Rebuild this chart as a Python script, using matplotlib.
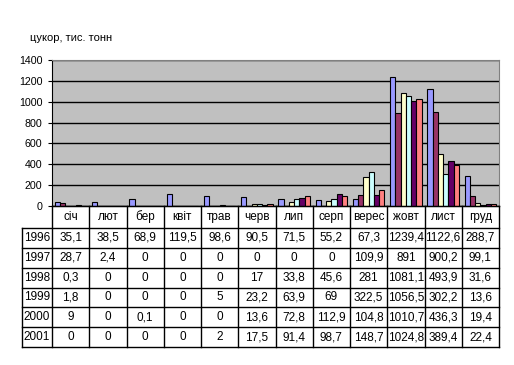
import numpy as np
import matplotlib
matplotlib.use('Agg')
from matplotlib import pyplot as plt

plt.rcParams['font.family'] = ['Liberation Sans', 'DejaVu Sans']

months = ['січ', 'лют', 'бер', 'квіт', 'трав', 'черв', 'лип', 'серп', 'верес', 'жовт', 'лист', 'груд']
years = ['1996', '1997', '1998', '1999', '2000', '2001']

y1996 = [35.1, 38.5, 68.9, 119.5, 98.6, 90.5, 71.5, 55.2, 67.3, 1239.4, 1122.6, 288.7]
y1997 = [28.7, 2.4, 0, 0, 0, 0, 0, 0, 109.9, 891, 900.2, 99.1]
y1998 = [0.3, 0, 0, 0, 0, 17, 33.8, 45.6, 281, 1081.1, 493.9, 31.6]
y1999 = [1.8, 0, 0, 0, 5, 23.2, 63.9, 69, 322.5, 1056.5, 302.2, 13.6]
y2000 = [9, 0, 0.1, 0, 0, 13.6, 72.8, 112.9, 104.8, 1010.7, 436.3, 19.4]
y2001 = [0, 0, 0, 0, 2, 17.5, 91.4, 98.7, 148.7, 1024.8, 389.4, 22.4]
series = [y1996, y1997, y1998, y1999, y2000, y2001]
colors = ['#9999FF', '#993366', '#FFFFCC', '#CCFFFF', '#660066', '#FF8080']


def fmt(v):
    if v == int(v):
        return str(int(v))
    return ('%.1f' % v).replace('.', ',')


W, H = 514, 365
fig = plt.figure(figsize=(W / 100, H / 100), dpi=100)

# plot area (pixel box 52..499 x 60..206)
ax = fig.add_axes([52 / W, 1 - 206 / H, 447 / W, 146 / H])
ax.set_facecolor('#C0C0C0')
x = np.arange(len(months))
bw = 0.85 / len(series)
for i, s in enumerate(series):
    ax.bar(x - 0.425 + bw * (i + 0.5), s, width=bw, color=colors[i],
           edgecolor='black', linewidth=0.8, zorder=3)
ax.set_xlim(-0.5, 11.5)
ax.set_ylim(0, 1400)
ax.set_yticks(range(0, 1401, 200))
ax.yaxis.grid(True, color='black', linewidth=1.0, zorder=1)
ax.set_xticks([])
ax.tick_params(axis='y', length=3, width=0.8, pad=4, labelsize=7.7, direction='out')
ax.spines['left'].set_color('black')
ax.spines['bottom'].set_color('black')
ax.spines['top'].set_color('#808080')
ax.spines['right'].set_color('#808080')

fig.text(30 / W, 1 - 41 / H, 'цукор, тис. тонн', fontsize=8, va='baseline', ha='left')

# data table under the plot (pixel box 22..499 x 206..347)
tx = fig.add_axes([22 / W, 1 - 347 / H, 477 / W, 141 / H])
cw = 447 / 12
lab = 30 / cw
tx.set_xlim(-0.5 - lab, 11.5)
tx.set_ylim(141, 0)
tx.axis('off')
hh = 22
rh = (141 - hh) / len(years)
lk = dict(color='black', linewidth=1.0, clip_on=False)

tx.plot([-0.5, 11.5], [0, 0], **lk)
for r in range(len(years) + 1):
    yy = hh + r * rh
    tx.plot([-0.5 - lab, 11.5], [yy, yy], **lk)
tx.plot([-0.5 - lab, -0.5 - lab], [hh, 141], **lk)
for c in range(13):
    tx.plot([c - 0.5, c - 0.5], [0, 141], **lk)

for c, m in enumerate(months):
    tx.text(c, hh / 2, m, ha='center', va='center', fontsize=8.5)
for r, yr in enumerate(years):
    yc = hh + (r + 0.5) * rh
    tx.text(-0.5 - lab / 2, yc, yr, ha='center', va='center', fontsize=8.5)
    for c, v in enumerate(series[r]):
        tx.text(c, yc, fmt(v), ha='center', va='center', fontsize=8.5)

fig.savefig('out.png', dpi=100)
